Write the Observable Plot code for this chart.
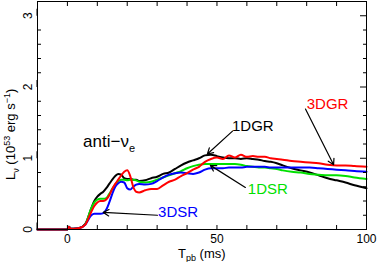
<!DOCTYPE html>
<html>
<head>
<meta charset="utf-8">
<script src="https://cdn.jsdelivr.net/npm/d3@7"></script>
<script src="https://cdn.jsdelivr.net/npm/@observablehq/plot@0.6"></script>
<style>
  html, body { margin: 0; padding: 0; background: #fff; }
  #chart svg { display: block; font-family: "Liberation Sans", Arial, sans-serif; }
</style>
</head>
<body>
<div id="chart"></div>
<script>
// time post bounce (ms)
const T = [-10, 0, 0.5, 1.2, 2, 4, 6, 8, 9, 10, 11, 12, 13, 14, 15, 16, 17, 18, 19, 20, 21, 22, 23, 24,
  26, 28, 30, 32, 34, 36, 38, 40, 42, 44, 46, 48, 50, 52, 54, 56, 58, 60, 62, 64, 66, 68, 70, 72,
  75, 78, 81, 84, 87, 90, 93, 96, 100];
// luminosities (10^53 erg/s)
const L1DGR = [0, 0, 0.04, 0.01, 0.01, 0.02, 0.08, 0.3,
  0.4, 0.46, 0.5, 0.53, 0.58, 0.64, 0.7, 0.75, 0.78, 0.77, 0.72, 0.71, 0.71, 0.7, 0.7, 0.68,
  0.69, 0.72, 0.74, 0.78, 0.8, 0.85, 0.9, 0.94, 0.97, 1.0, 1.04, 1.05, 1.03, 1.01, 1.0, 1.0, 0.99, 1.0, 0.99, 0.98, 0.96, 0.95, 0.93, 0.9,
  0.86, 0.83, 0.8, 0.76, 0.72, 0.69, 0.66, 0.62, 0.58];
const L3DGR = [0, 0, 0.04, 0.01, 0.01, 0.02, 0.07, 0.25,
  0.33, 0.38, 0.4, 0.4, 0.42, 0.48, 0.57, 0.64, 0.7, 0.76, 0.81, 0.83, 0.75, 0.6, 0.53, 0.52,
  0.55, 0.57, 0.57, 0.62, 0.67, 0.7, 0.75, 0.79, 0.84, 0.88, 0.95, 0.99, 1.01, 0.99, 1.04, 1.01, 1.05, 1.02, 1.03, 1.02, 1.02, 1.0, 0.99, 0.98,
  0.96, 0.95, 0.94, 0.93, 0.91, 0.9, 0.9, 0.89, 0.88];
const L1DSR = [0, 0, 0.04, 0.01, 0.01, 0.02, 0.08, 0.3,
  0.38, 0.42, 0.43, 0.43, 0.44, 0.5, 0.57, 0.63, 0.68, 0.7, 0.7, 0.69, 0.7, 0.7, 0.69, 0.67,
  0.66, 0.67, 0.7, 0.73, 0.76, 0.79, 0.82, 0.86, 0.89, 0.91, 0.92, 0.92, 0.92, 0.92, 0.92, 0.92, 0.91, 0.89, 0.88, 0.87, 0.87, 0.86, 0.85, 0.83,
  0.81, 0.8, 0.78, 0.77, 0.76, 0.76, 0.75, 0.73, 0.71];
const L3DSR = [0, 0, 0.04, 0.01, 0.01, 0.02, 0.07, 0.2,
  0.22, 0.22, 0.22, 0.23, 0.28, 0.38, 0.5, 0.6, 0.65, 0.67, 0.66, 0.58, 0.56, 0.6, 0.63, 0.64,
  0.63, 0.64, 0.68, 0.73, 0.77, 0.79, 0.8, 0.79, 0.78, 0.8, 0.84, 0.86, 0.86, 0.86, 0.87, 0.87, 0.87, 0.88, 0.88, 0.88, 0.88, 0.87, 0.87, 0.87,
  0.87, 0.87, 0.87, 0.86, 0.85, 0.84, 0.83, 0.82, 0.81];

// ticks
const xTicks = [-10, 0, 10, 20, 30, 40, 50, 60, 70, 80, 90, 100];
const xLabelTicks = [0, 50, 100];
const yMinorTicks = [0.2, 0.4, 0.6, 0.8, 1.2, 1.4, 1.6, 1.8, 2.2, 2.4, 2.6, 2.8, 3.2];
const yMajorTicks = [0, 1, 2, 3];

// annotations
const labelNames = ["1DGR", "3DGR", "1DSR", "3DSR"];
const labelX = [62, 87, 67, 37];
const labelY = [1.45, 1.76, 0.57, 0.25];
const labelColors = ["#000000", "#ff0000", "#00e000", "#0000ff"];
const arrowX1 = [55.2, 79.6, 59.5, 30.1];
const arrowY1 = [1.38, 1.69, 0.59, 0.2];
const arrowX2 = [46.8, 89, 47.8, 12];
const arrowY2 = [1.06, 0.91, 0.9, 0.24];

const series = [
  {name: "1DGR", values: L1DGR, color: "#000000"},
  {name: "1DSR", values: L1DSR, color: "#00e000"},
  {name: "3DSR", values: L3DSR, color: "#0000ff"},
  {name: "3DGR", values: L3DGR, color: "#ff0000"}
];
const lineMarks = series.map(s =>
  Plot.line(T.map((t, i) => ({t, v: s.values[i]})), {x: "t", y: "v", stroke: s.color, strokeWidth: 2, curve: "monotone-x"})
);
const labels = labelNames.map((n, i) => ({n, x: labelX[i], y: labelY[i], c: labelColors[i]}));
const arrows = arrowX1.map((x1, i) => ({x1, y1: arrowY1[i], x2: arrowX2[i], y2: arrowY2[i]}));

const chart = Plot.plot({
  width: 377,
  height: 262,
  marginLeft: 37,
  marginRight: 11,
  marginTop: 1,
  marginBottom: 33,
  style: {fontFamily: "Liberation Sans, Arial, sans-serif", fontSize: "12px", color: "#000", background: "#fff"},
  x: {domain: [-10, 100], label: null},
  y: {domain: [0, 3.2], label: null},
  marks: [
    ...lineMarks,
    Plot.axisX({anchor: "bottom", ticks: xTicks, tickSize: -4, tickPadding: 9, tickFormat: d => xLabelTicks.includes(d) ? String(d) : "", label: null, fontSize: 12}),
    Plot.axisX({anchor: "top", ticks: xTicks, tickSize: -4, tickFormat: () => "", label: null}),
    Plot.axisY({anchor: "left", ticks: yMinorTicks, tickSize: -4, tickFormat: () => "", label: null}),
    Plot.axisY({anchor: "right", ticks: yMinorTicks, tickSize: -4, tickFormat: () => "", label: null}),
    Plot.axisY({anchor: "left", ticks: yMajorTicks, tickSize: -7, tickPadding: 16, tickFormat: d => String(d), rotate: -90, textAnchor: "middle", label: null, fontSize: 12}),
    Plot.axisY({anchor: "right", ticks: yMajorTicks, tickSize: -7, tickFormat: () => "", label: null}),
    Plot.arrow(arrows, {x1: "x1", y1: "y1", x2: "x2", y2: "y2", stroke: "black", strokeWidth: 1.2, headLength: 8, bend: false}),
    Plot.text(labels, {x: "x", y: "y", text: "n", fill: "c", fontSize: 15}),
    Plot.frame({stroke: "black", strokeWidth: 1})
  ]
});

const svg = d3.select(chart);
const xs = chart.scale("x"), ys = chart.scale("y");
// anti-nu_e label
const anti = svg.append("text")
  .attr("x", xs.apply(5.4)).attr("y", ys.apply(1.24))
  .attr("dy", "0.35em").attr("text-anchor", "start")
  .attr("font-size", 17).attr("fill", "black");
anti.append("tspan").text("anti\u2212\u03bd");
anti.append("tspan").attr("font-size", 11).attr("dy", 5).text("e");

// x axis title
const xt = svg.append("text")
  .attr("x", 178).attr("y", 258)
  .attr("text-anchor", "start").attr("font-size", 13).attr("fill", "black");
xt.append("tspan").text("T");
xt.append("tspan").attr("font-size", 9).attr("dy", 3).text("pb");
xt.append("tspan").attr("dy", -3).text(" (ms)");

// y axis title
const yt = svg.append("text")
  .attr("transform", `translate(15,180) rotate(-90)`)
  .attr("text-anchor", "start").attr("font-size", 13).attr("fill", "black");
yt.append("tspan").text("L");
yt.append("tspan").attr("font-size", 9).attr("dy", 4).text("\u03bd");
yt.append("tspan").attr("dy", -4).text(" (10");
yt.append("tspan").attr("font-size", 9).attr("dy", -5).text("53");
yt.append("tspan").attr("dy", 5).text(" erg s");
yt.append("tspan").attr("font-size", 9).attr("dy", -5).text("\u22121");
yt.append("tspan").attr("dy", 5).text(")");

document.getElementById("chart").appendChild(chart);
</script>
</body>
</html>
